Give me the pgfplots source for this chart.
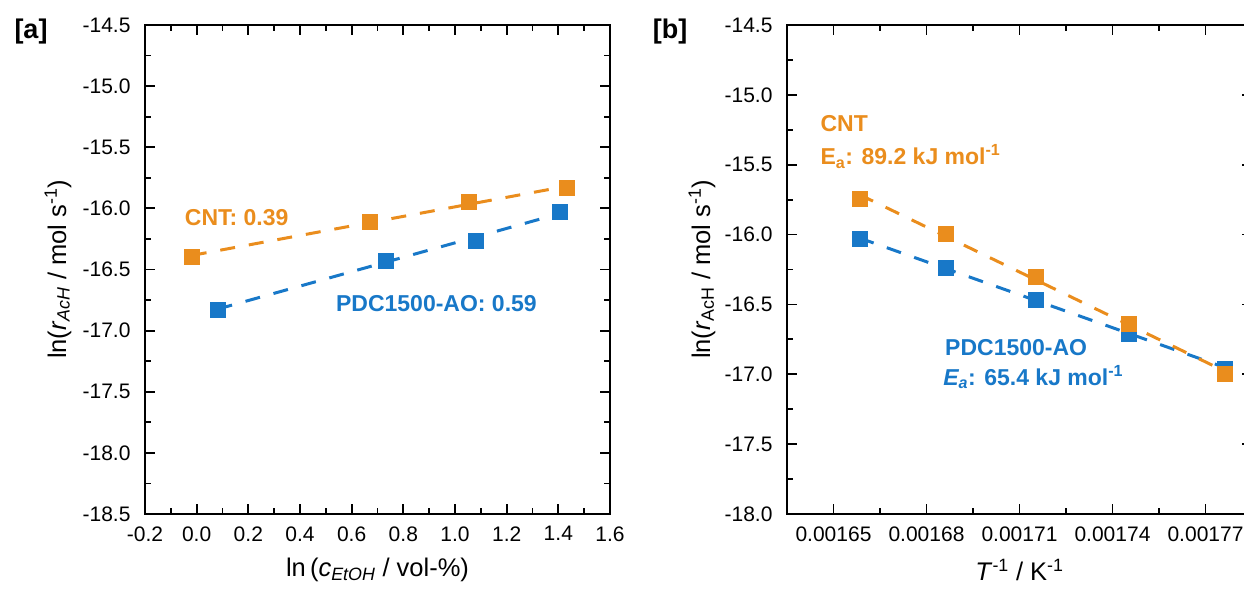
\documentclass[border=0pt]{standalone}
\usepackage{pgfplots}
\usepackage{pgfplotstable}
\pgfplotsset{compat=1.18}
\usepackage{fontspec}
\setmainfont{Liberation Sans}
\definecolor{cOr}{RGB}{234,141,29}
\definecolor{cBl}{RGB}{24,120,200}

\pgfplotstableread{
x y
-0.019 -16.398
0.670 -16.107
1.054 -15.949
1.432 -15.832
}\cntA
\pgfplotstableread{
x y
0.081 -16.828
0.730 -16.425
1.079 -16.265
1.405 -16.025
}\pdcA
\pgfplotstableread{
x y
0.00165837 -15.745
0.00168634 -15.991
0.00171527 -16.302
0.00174520 -16.640
0.00177620 -16.998
}\cntB
\pgfplotstableread{
x y
0.00165837 -16.032
0.00168634 -16.235
0.00171527 -16.464
0.00174520 -16.707
0.00177620 -16.962
}\pdcB

\pgfplotsset{
  myaxis/.style={
    scale only axis, width=465pt, height=489pt, anchor=south west,
    axis line style={line width=2pt},
    tick align=inside, major tick length=10pt, minor tick length=6pt,
    tick style={black, line width=1.8pt},
    tick label style={font=\fontsize{21}{24}\selectfont},
    yticklabel style={xshift=-11pt},
    xticklabel style={yshift=-9pt},
    /pgf/number format/assume math mode=true,
    label style={font=\fontsize{25.5}{28}\selectfont},
    ylabel style={at={(axis description cs:0,0.5)}, anchor=center, yshift=87pt},
    xlabel style={at={(axis description cs:0.5,0)}, anchor=center, yshift=-56pt},
    clip=false,
  },
  fitline/.style={line width=3pt, dash pattern=on 15pt off 14pt},
  sq/.style={only marks, mark=square*, mark size=7.5pt, mark options={solid}},
}

\begin{document}
\begin{tikzpicture}
\begin{axis}[myaxis, at={(145pt,75pt)},
  xmin=-0.2, xmax=1.6, ymin=-18.5, ymax=-14.5,
  xtick={-0.2,0,0.2,0.4,0.6,0.8,1.0,1.2,1.4,1.6},
  ytick={-18.5,-18,-17.5,-17,-16.5,-16,-15.5,-15,-14.5},
  minor x tick num=1, minor y tick num=1,
  xticklabel style={/pgf/number format/.cd, fixed, fixed zerofill, precision=1},
  yticklabel style={/pgf/number format/.cd, fixed, fixed zerofill, precision=1},
  scaled ticks=false,
  xlabel={ln\,(\textit{c}\textsubscript{\textit{EtOH}} / vol-\%)},
  ylabel={ln(\textit{r}\textsubscript{\textit{AcH}} / mol s\textsuperscript{-1})},
]
\addplot[fitline, cOr] coordinates {(-0.019,-16.385) (1.432,-15.819)};
\addplot[fitline, cBl] coordinates {(0.081,-16.824) (1.405,-16.043)};
\addplot[sq, color=cOr] table {\cntA};
\addplot[sq, color=cBl] table {\pdcA};
\node[anchor=base west, text=cOr, font=\bfseries\fontsize{23}{26}\selectfont] at (axis cs:-0.059,-16.142) {CNT: 0.39};
\node[anchor=base west, text=cBl, font=\bfseries\fontsize{23}{26}\selectfont] at (axis cs:0.526,-16.842) {PDC1500-AO: 0.59};
\end{axis}

\begin{axis}[myaxis, at={(787pt,75pt)},
  xmin=0.001635, xmax=0.001785, ymin=-18, ymax=-14.5,
  xtick={0.00165,0.00168,0.00171,0.00174,0.00177},
  xticklabels={0.00165,0.00168,0.00171,0.00174,0.00177},
  ytick={-18,-17.5,-17,-16.5,-16,-15.5,-15,-14.5},
  minor x tick num=1, minor y tick num=1,
  yticklabel style={/pgf/number format/.cd, fixed, fixed zerofill, precision=1},
  scaled ticks=false,
  xlabel={\textit{T}\textsuperscript{-1} / K\textsuperscript{-1}},
  ylabel={ln(\textit{r}\textsubscript{AcH} / mol s\textsuperscript{-1})},
  ylabel style={yshift=-2pt},
]
\addplot[fitline, cBl] coordinates {(0.00165837,-16.0245) (0.00177620,-16.951)};
\addplot[fitline, cOr] coordinates {(0.00165837,-15.714) (0.00177620,-16.978)};
\addplot[sq, color=cBl] table {\pdcB};
\addplot[sq, color=cOr] table {\cntB};
\node[anchor=base west, text=cOr, font=\bfseries\fontsize{23}{26}\selectfont] at (axis cs:0.0016447,-15.264) {CNT};
\node[anchor=base west, text=cOr, font=\bfseries\fontsize{23}{26}\selectfont] at (axis cs:0.0016447,-15.502) {E\textsubscript{a}: 89.2 kJ mol\textsuperscript{-1}};
\node[anchor=base west, text=cBl, font=\bfseries\fontsize{23}{26}\selectfont] at (axis cs:0.0016849,-16.862) {PDC1500-AO};
\node[anchor=base west, text=cBl, font=\bfseries\fontsize{23}{26}\selectfont] at (axis cs:0.0016843,-17.077) {\textit{E\textsubscript{a}}: 65.4 kJ mol\textsuperscript{-1}};
\end{axis}

\node[font=\bfseries\fontsize{27}{30}\selectfont] at (31pt,557pt) {[a]};
\node[font=\bfseries\fontsize{27}{30}\selectfont] at (670pt,557pt) {[b]};

\pgfresetboundingbox
\useasboundingbox (0pt,0pt) rectangle (1244pt,589pt);
\end{tikzpicture}
\end{document}
